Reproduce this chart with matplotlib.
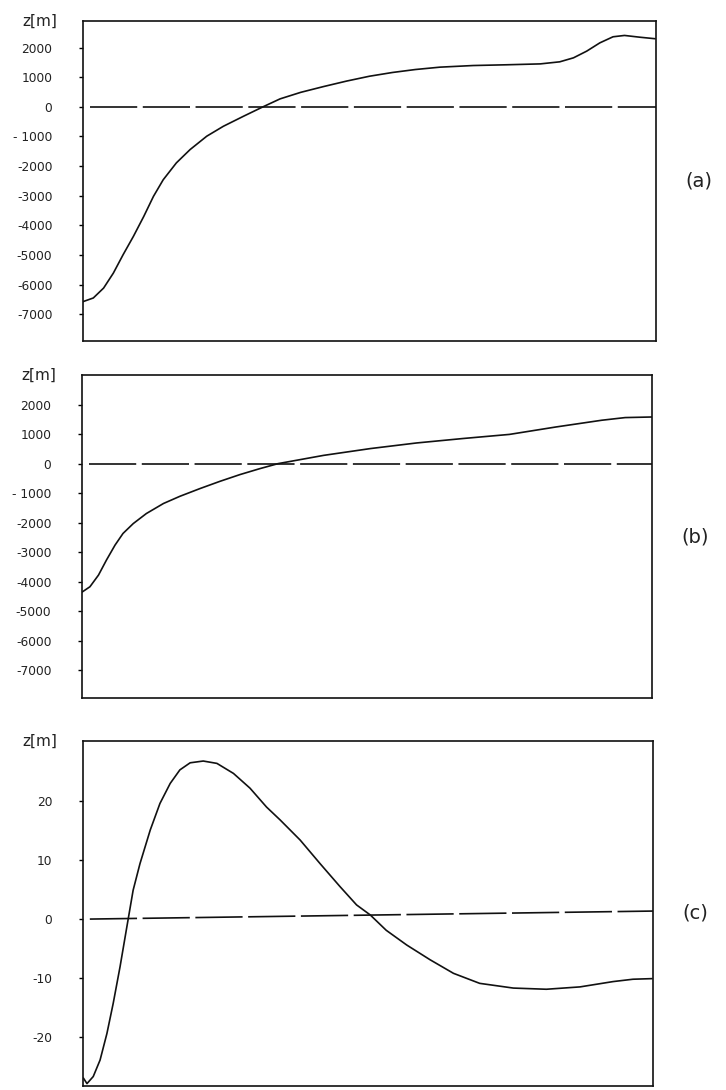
import matplotlib.pyplot as plt

plt.rcParams['font.family'] = 'DejaVu Sans'
plt.rcParams['axes.unicode_minus'] = False
plt.rcParams['lines.scale_dashes'] = False

# panel (a): relative distance along profile (0..1) and height z [m]
a_x = [0.0005, 0.018, 0.036, 0.053, 0.07, 0.088, 0.106, 0.123, 0.14, 0.163,
       0.187, 0.216, 0.245, 0.28, 0.314, 0.344, 0.38, 0.42, 0.46, 0.50,
       0.54, 0.58, 0.623, 0.681, 0.739, 0.798, 0.832, 0.856, 0.879, 0.902,
       0.925, 0.945, 0.972, 0.998]
a_z = [-6570, -6450, -6115, -5610, -4990, -4370, -3700, -3020, -2460, -1890,
       -1440, -990, -655, -318, 0, 270, 490, 686, 870, 1034,
       1160, 1260, 1340, 1395, 1420, 1450, 1520, 1655, 1880, 2160,
       2365, 2410, 2350, 2300]

# panel (b)
b_x = [0.001, 0.014, 0.029, 0.043, 0.058, 0.072, 0.09, 0.113, 0.143, 0.172,
       0.207, 0.242, 0.277, 0.312, 0.344, 0.424, 0.506, 0.587, 0.668, 0.75,
       0.831, 0.912, 0.953, 1.0]
b_z = [-4340, -4170, -3775, -3265, -2760, -2365, -2030, -1690, -1350, -1105,
       -845, -600, -372, -170, 0, 280, 510, 700, 850, 990,
       1240, 1470, 1560, 1580]

# panel (c)
c_x = [0.001, 0.007, 0.018, 0.03, 0.042, 0.053, 0.065, 0.077, 0.088, 0.1,
       0.118, 0.135, 0.153, 0.17, 0.188, 0.211, 0.235, 0.264, 0.293, 0.322,
       0.346, 0.381, 0.416, 0.451, 0.48, 0.504, 0.532, 0.568, 0.609, 0.65,
       0.696, 0.755, 0.813, 0.872, 0.93, 0.965, 0.998]
c_z = [-27.0, -27.9, -26.7, -23.9, -19.4, -14.3, -8.1, -1.3, 4.9, 9.4,
       15.1, 19.6, 23.0, 25.3, 26.5, 26.8, 26.4, 24.7, 22.2, 19.0,
       16.8, 13.4, 9.4, 5.5, 2.4, 0.7, -1.9, -4.4, -6.9, -9.2,
       -10.9, -11.7, -11.9, -11.5, -10.6, -10.2, -10.1]

# reference (dashed) lines
a_ref_x, a_ref_z = [0.012, 1.0], [0, 0]
b_ref_x, b_ref_z = [0.012, 1.0], [0, 0]
c_ref_x, c_ref_z = [0.012, 1.0], [0.0, 1.36]

ab_ticks = [2000, 1000, 0, -1000, -2000, -3000, -4000, -5000, -6000, -7000]
ab_labels = ['2000', '1000', '0', '- 1000', '-2000', '-3000', '-4000',
             '-5000', '-6000', '-7000']
c_ticks = [20, 10, 0, -10, -20]
c_labels = ['20', '10', '0', '-10', '-20']

fig = plt.figure(figsize=(7.26, 10.9), dpi=100)

panels = [
    ([0.1143, 0.6872, 0.7893, 0.2936], a_x, a_z, a_ref_x, a_ref_z,
     (-7900, 2900), ab_ticks, ab_labels, '(a)'),
    ([0.1129, 0.3596, 0.7851, 0.2963], b_x, b_z, b_ref_x, b_ref_z,
     (-7940, 3000), ab_ticks, ab_labels, '(b)'),
    ([0.1143, 0.0037, 0.7851, 0.3165], c_x, c_z, c_ref_x, c_ref_z,
     (-28.3, 30.2), c_ticks, c_labels, '(c)'),
]

for rect, xs, zs, rx, rz, ylim, ticks, labels, tag in panels:
    ax = fig.add_axes(rect)
    ax.plot(xs, zs, color='#111111', lw=1.2)
    ax.plot(rx, rz, color='#111111', lw=1.2, linestyle=(0, (34, 4)))
    ax.set_xlim(0, 1)
    ax.set_ylim(*ylim)
    ax.set_xticks([])
    ax.set_yticks(ticks)
    ax.set_yticklabels(labels, fontsize=8.8, color='#222222')
    ax.tick_params(axis='y', direction='out', length=3, width=1.0, pad=19)
    for s in ax.spines.values():
        s.set_linewidth(1.2)
        s.set_color('#111111')
    ax.text(-0.045, 1.0, 'z[m]', transform=ax.transAxes, ha='right',
            va='center', fontsize=11, color='#222222')
    ax.text(1.075, 0.5, tag, transform=ax.transAxes,
            ha='center', va='center', fontsize=14, color='#222222')

fig.savefig('out.png', dpi=100, facecolor='white')
